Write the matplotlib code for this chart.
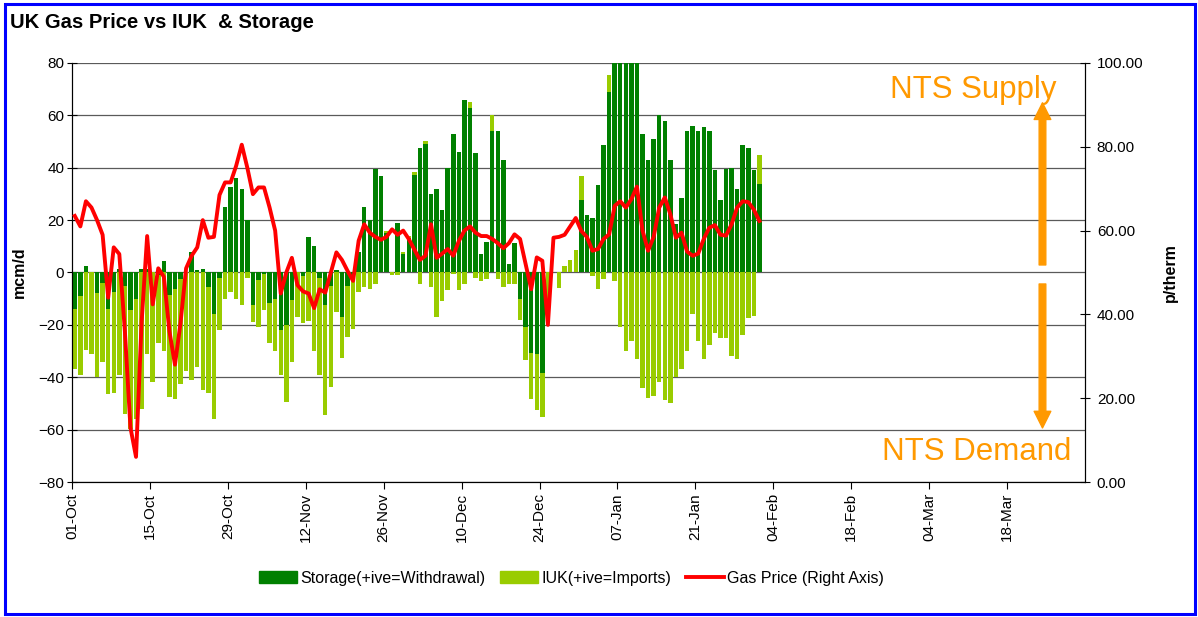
import numpy as np
import matplotlib
matplotlib.use('Agg')
import matplotlib.pyplot as plt
from matplotlib.patches import Patch, Rectangle
from matplotlib.lines import Line2D
from matplotlib.ticker import FormatStrFormatter

plt.rcParams['font.family'] = ['Liberation Sans', 'DejaVu Sans']

# daily values from 01-Oct, mcm/d (+ive = supply to NTS)
storage = [-14, -9, 2.4, 0, -8, -4, -14, -7.5, 1.5, -5,
           -14.4, -10, 1.5, 1.5, 0, -1, 4.5, -8.5, -6.4, -2.5,
           0, 7.8, 1, 1.3, -5.5, -16, -2, 25, 32.7, 36,
           32, 20, -12.3, -3, -0.5, -11.5, -10, -22, -20, -10.5,
           0, -1.3, 13.6, 10, -2, -12.3, -5, 1, -17, -5,
           -2, 8, 25, 20, 39.4, 36.8, 14.9, 0, 19, 7,
           13.2, 37.3, 47.5, 49.2, 30, 31.8, 24, 40, 52.8, 46,
           66, 63, 45.5, 7, 11.6, 54, 54, 43, 3.2, 11.2,
           -10, -20.7, -30.8, -31, -38.4, 0, 0, 0, 0, 0,
           0, 27.7, 21.9, 21, 33.3, 48.7, 69, 85, 85, 85,
           85, 85, 53, 43, 51, 60, 58, 43, 18.4, 28.6,
           54, 56, 54, 55.5, 54, 39, 27.6, 39.4, 40, 31.8,
           48.6, 47.5, 39, 33.7]
iuk = [-23, -30, -29.5, -31, -32, -30, -32.5, -38.5, -39, -49,
       -45.4, -46, -52, -31, -42, -26, -30, -39, -42, -40,
       -37.5, -41, -36, -45, -40.5, -40, -20, -10, -7.4, -10,
       -12.5, -2, -6.5, -18, -14, -15.5, -20, -17, -29.6, -23.5,
       -17, -18, -18.5, -30, -37, -42, -38.6, -15, -15.5, -19.5,
       -19.6, -7.4, -5.5, -6.4, -4.5, 0, 1, -1, -1, 0.8,
       0.8, 1, -4.5, 0.9, -5.5, -17, -10.8, -6.6, -0.6, -6.6,
       -4.5, 2, -2, -3.2, -2.5, 6, -2.5, -5.5, -4.5, -4.5,
       -8, -12.6, -17.5, -21.4, -16.7, -11.6, 0, -6, 2.4, 4.7,
       8.5, 9, 0, -1.3, -6.4, -2.5, 6.5, -3.2, -21, -30,
       -26, -33, -44, -48, -47, -41.7, -48.6, -50, -40, -37,
       -30, -16, -26, -33, -27.6, -23, -25, -25, -32, -33,
       -24, -17.4, -16.5, 11]
# p/therm
price = [63.5, 61, 67, 65.5, 62.5, 59, 44, 56, 54.4, 36,
         13, 6, 38, 58.7, 42.4, 51, 49, 36, 28, 38,
         51, 54, 56, 62.5, 58.3, 58.5, 68.5, 71.5, 71.5, 75.5,
         80.5, 75, 68.7, 70.3, 70.3, 65.5, 60, 45, 50, 53.5,
         47, 45.5, 45, 41.5, 46, 45.2, 50, 54.8, 53, 50.4,
         48, 57.6, 61.5, 59.5, 58.5, 57.8, 58.5, 60.3, 59, 60,
         58, 55.5, 53, 54, 61.5, 53.5, 54.5, 55.6, 54, 57.5,
         60, 61, 59.5, 58.7, 58.7, 58, 57, 55.8, 57, 59.1,
         58, 52, 46, 53.6, 52.8, 37.5, 58.3, 58.5, 59, 61,
         63, 59.9, 58.5, 55.2, 55.6, 58, 59.1, 65.9, 67, 65.5,
         67.5, 70.5, 60, 55.2, 58.5, 65.5, 67.9, 63.9, 58.3, 59.5,
         55, 54, 54.5, 58, 60.7, 61.3, 59, 58.8, 61.5, 65.5,
         67, 66.8, 65, 62.3]
tick_labels = ['01-Oct', '15-Oct', '29-Oct', '12-Nov', '26-Nov', '10-Dec', '24-Dec',
               '07-Jan', '21-Jan', '04-Feb', '18-Feb', '04-Mar', '18-Mar']
n_days = 182  # 01-Oct .. 31-Mar

day = np.arange(len(storage))
s = np.array(storage)
m = np.array(iuk)
same_sign = ((s > 0) & (m > 0)) | ((s < 0) & (m < 0))
iuk_base = np.where(same_sign, s, 0)   # excel style stacking

dark_green = '#008000'
light_green = '#99CC00'
orange = '#FF9900'

fig = plt.figure(figsize=(11.98, 6.17), dpi=100)
ax = fig.add_axes([0.0601, 0.2188, 0.8456, 0.6791])
ax.bar(day + 0.5, storage, width=0.8, color=dark_green, zorder=2)
ax.bar(day + 0.5, iuk, bottom=iuk_base, width=0.8, color=light_green, zorder=2)
ax.set_xlim(0, n_days)
ax.set_ylim(-80, 80)
ax.set_yticks(np.arange(-80, 81, 20))
ax.set_xticks(np.arange(len(tick_labels)) * 14)
ax.set_xticklabels(tick_labels, rotation=90)
ax.yaxis.grid(True, color='#5a5a5a', lw=0.9)
ax.set_axisbelow(True)
ax.tick_params(axis='y', direction='inout', length=7, labelsize=11, pad=2)
ax.tick_params(axis='x', direction='out', length=5, labelsize=11, pad=3)
ax.set_ylabel('mcm/d', fontweight='bold', fontsize=11.5, labelpad=8)
ax.spines['top'].set_visible(False)

ax2 = ax.twinx()
ax2.plot(day + 0.5, price, color='#FF0000', lw=2.8, solid_joinstyle='round', zorder=3)
ax2.set_ylim(0, 100)
ax2.set_yticks(np.arange(0, 101, 20))
ax2.yaxis.set_major_formatter(FormatStrFormatter('%.2f'))
ax2.tick_params(axis='y', direction='inout', length=7, labelsize=11, pad=5)
ax2.set_ylabel('p/therm', fontweight='bold', fontsize=11.5, labelpad=14)
ax2.spines['top'].set_visible(False)

# supply / demand arrows
arr = dict(facecolor=orange, edgecolor=orange, width=4.8, headwidth=12, headlength=12, shrink=0)
ax.annotate('', xy=(0.958, 0.905), xytext=(0.958, 0.518), xycoords='axes fraction', arrowprops=arr)
ax.annotate('', xy=(0.958, 0.129), xytext=(0.958, 0.4726), xycoords='axes fraction', arrowprops=arr)
ax.text(0.890, 0.936, 'NTS Supply', transform=ax.transAxes, color=orange, fontsize=22.5,
        ha='center', va='center')
ax.text(0.893, 0.072, 'NTS Demand', transform=ax.transAxes, color=orange, fontsize=22.5,
        ha='center', va='center')

fig.text(0.0085, 0.964, 'UK Gas Price vs IUK  & Storage', fontweight='bold', fontsize=14.6,
         ha='left', va='center')

handles = [Patch(color=dark_green), Patch(color=light_green), Line2D([], [], color='#FF0000', lw=2.8)]
labels = ['Storage(+ive=Withdrawal)', 'IUK(+ive=Imports)', 'Gas Price (Right Axis)']
fig.legend(handles, labels, loc='center', bbox_to_anchor=(0.477, 0.063), ncol=3, frameon=False,
           fontsize=11.5, handlelength=2.4, handletextpad=0.2, columnspacing=0.9)

fig.patches.append(Rectangle((0.0042, 0.0049), 0.9933, 0.9887, transform=fig.transFigure,
                             fill=False, ec='#0000FF', lw=2.2))

fig.savefig('out.png', dpi=100)
